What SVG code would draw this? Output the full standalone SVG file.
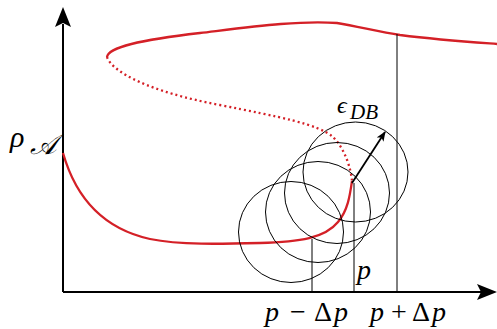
<svg xmlns="http://www.w3.org/2000/svg" width="497" height="329" viewBox="0 0 497 329">
<style>
.red{fill:none;stroke:#d42027;stroke-width:2.3}
.dot{fill:none;stroke:#d42027;stroke-width:2.3;stroke-dasharray:2 3}
.thin{fill:none;stroke:#000;stroke-width:1}
.ax{fill:none;stroke:#000;stroke-width:2}
.m{font-family:"Liberation Serif","DejaVu Serif",serif;font-style:italic;fill:#000}
.u{font-family:"Liberation Serif","DejaVu Serif",serif;font-style:normal;fill:#000}
</style>
<defs>
<marker id="ah" markerWidth="10" markerHeight="8" refX="9" refY="4" orient="auto" markerUnits="userSpaceOnUse">
<path d="M0,0 L10,4 L0,8 L2.5,4 Z" fill="#000"/>
</marker>
</defs>
<g id="axes">
<line class="ax" x1="63" y1="292" x2="63" y2="24"/>
<path d="M63,7 L71,27 L63,23 L55,27 Z" fill="#000"/>
<line class="ax" x1="63" y1="292" x2="481" y2="292"/>
<path d="M497,292 L477,284 L481,292 L477,300 Z" fill="#000"/>
</g>
<g id="curve">
<path class="red" d="M107,57 C108,47 140,40 200,33 C250,27 300,20 337,23 C360,27 380,32 400,35 C440,40 470,42 497,44"/>
<path class="dot" d="M107,57 C112,72 150,92 220,105 C280,117 318,124 333,137 C346,150 351,170 352,181"/>
<path class="red" d="M63,153 C75,195 100,228 150,239 C180,245 220,244 260,243 C300,242 325,238 338,222 C348,210 350,195 352,181"/>
</g>
<g id="circles">
<ellipse class="thin" cx="291" cy="232" rx="52.5" ry="50.5"/>
<ellipse class="thin" cx="318" cy="212" rx="52.5" ry="50.5"/>
<ellipse class="thin" cx="337" cy="193" rx="52.5" ry="50.5"/>
<ellipse class="thin" cx="355.5" cy="172" rx="52.5" ry="50"/>
</g>
<g id="connectors">
<line class="thin" x1="312" y1="239" x2="312" y2="292"/>
<line class="thin" x1="354" y1="183" x2="354" y2="292"/>
<line class="thin" x1="397" y1="34" x2="397" y2="292"/>
<line x1="352" y1="183" x2="385" y2="132" stroke="#000" stroke-width="1.8" marker-end="url(#ah)"/>
</g>
<g id="labels">
<text class="m" x="10" y="147" font-size="30">ρ<tspan font-size="28" x="30" y="154">𝒜</tspan></text>
<text class="m" x="337" y="113" font-size="24">ϵ<tspan font-size="21" x="350" y="119">DB</tspan></text>
<text class="m" x="357" y="279" font-size="28">p</text>
<text font-size="28" y="321"><tspan class="m" x="265">p</tspan><tspan class="u" x="290">−</tspan><tspan class="u" x="314">Δ</tspan><tspan class="m" x="334">p</tspan></text>
<text font-size="28" y="321"><tspan class="m" x="370">p</tspan><tspan class="u" x="391">+</tspan><tspan class="u" x="412">Δ</tspan><tspan class="m" x="432">p</tspan></text>
</g>
</svg>
